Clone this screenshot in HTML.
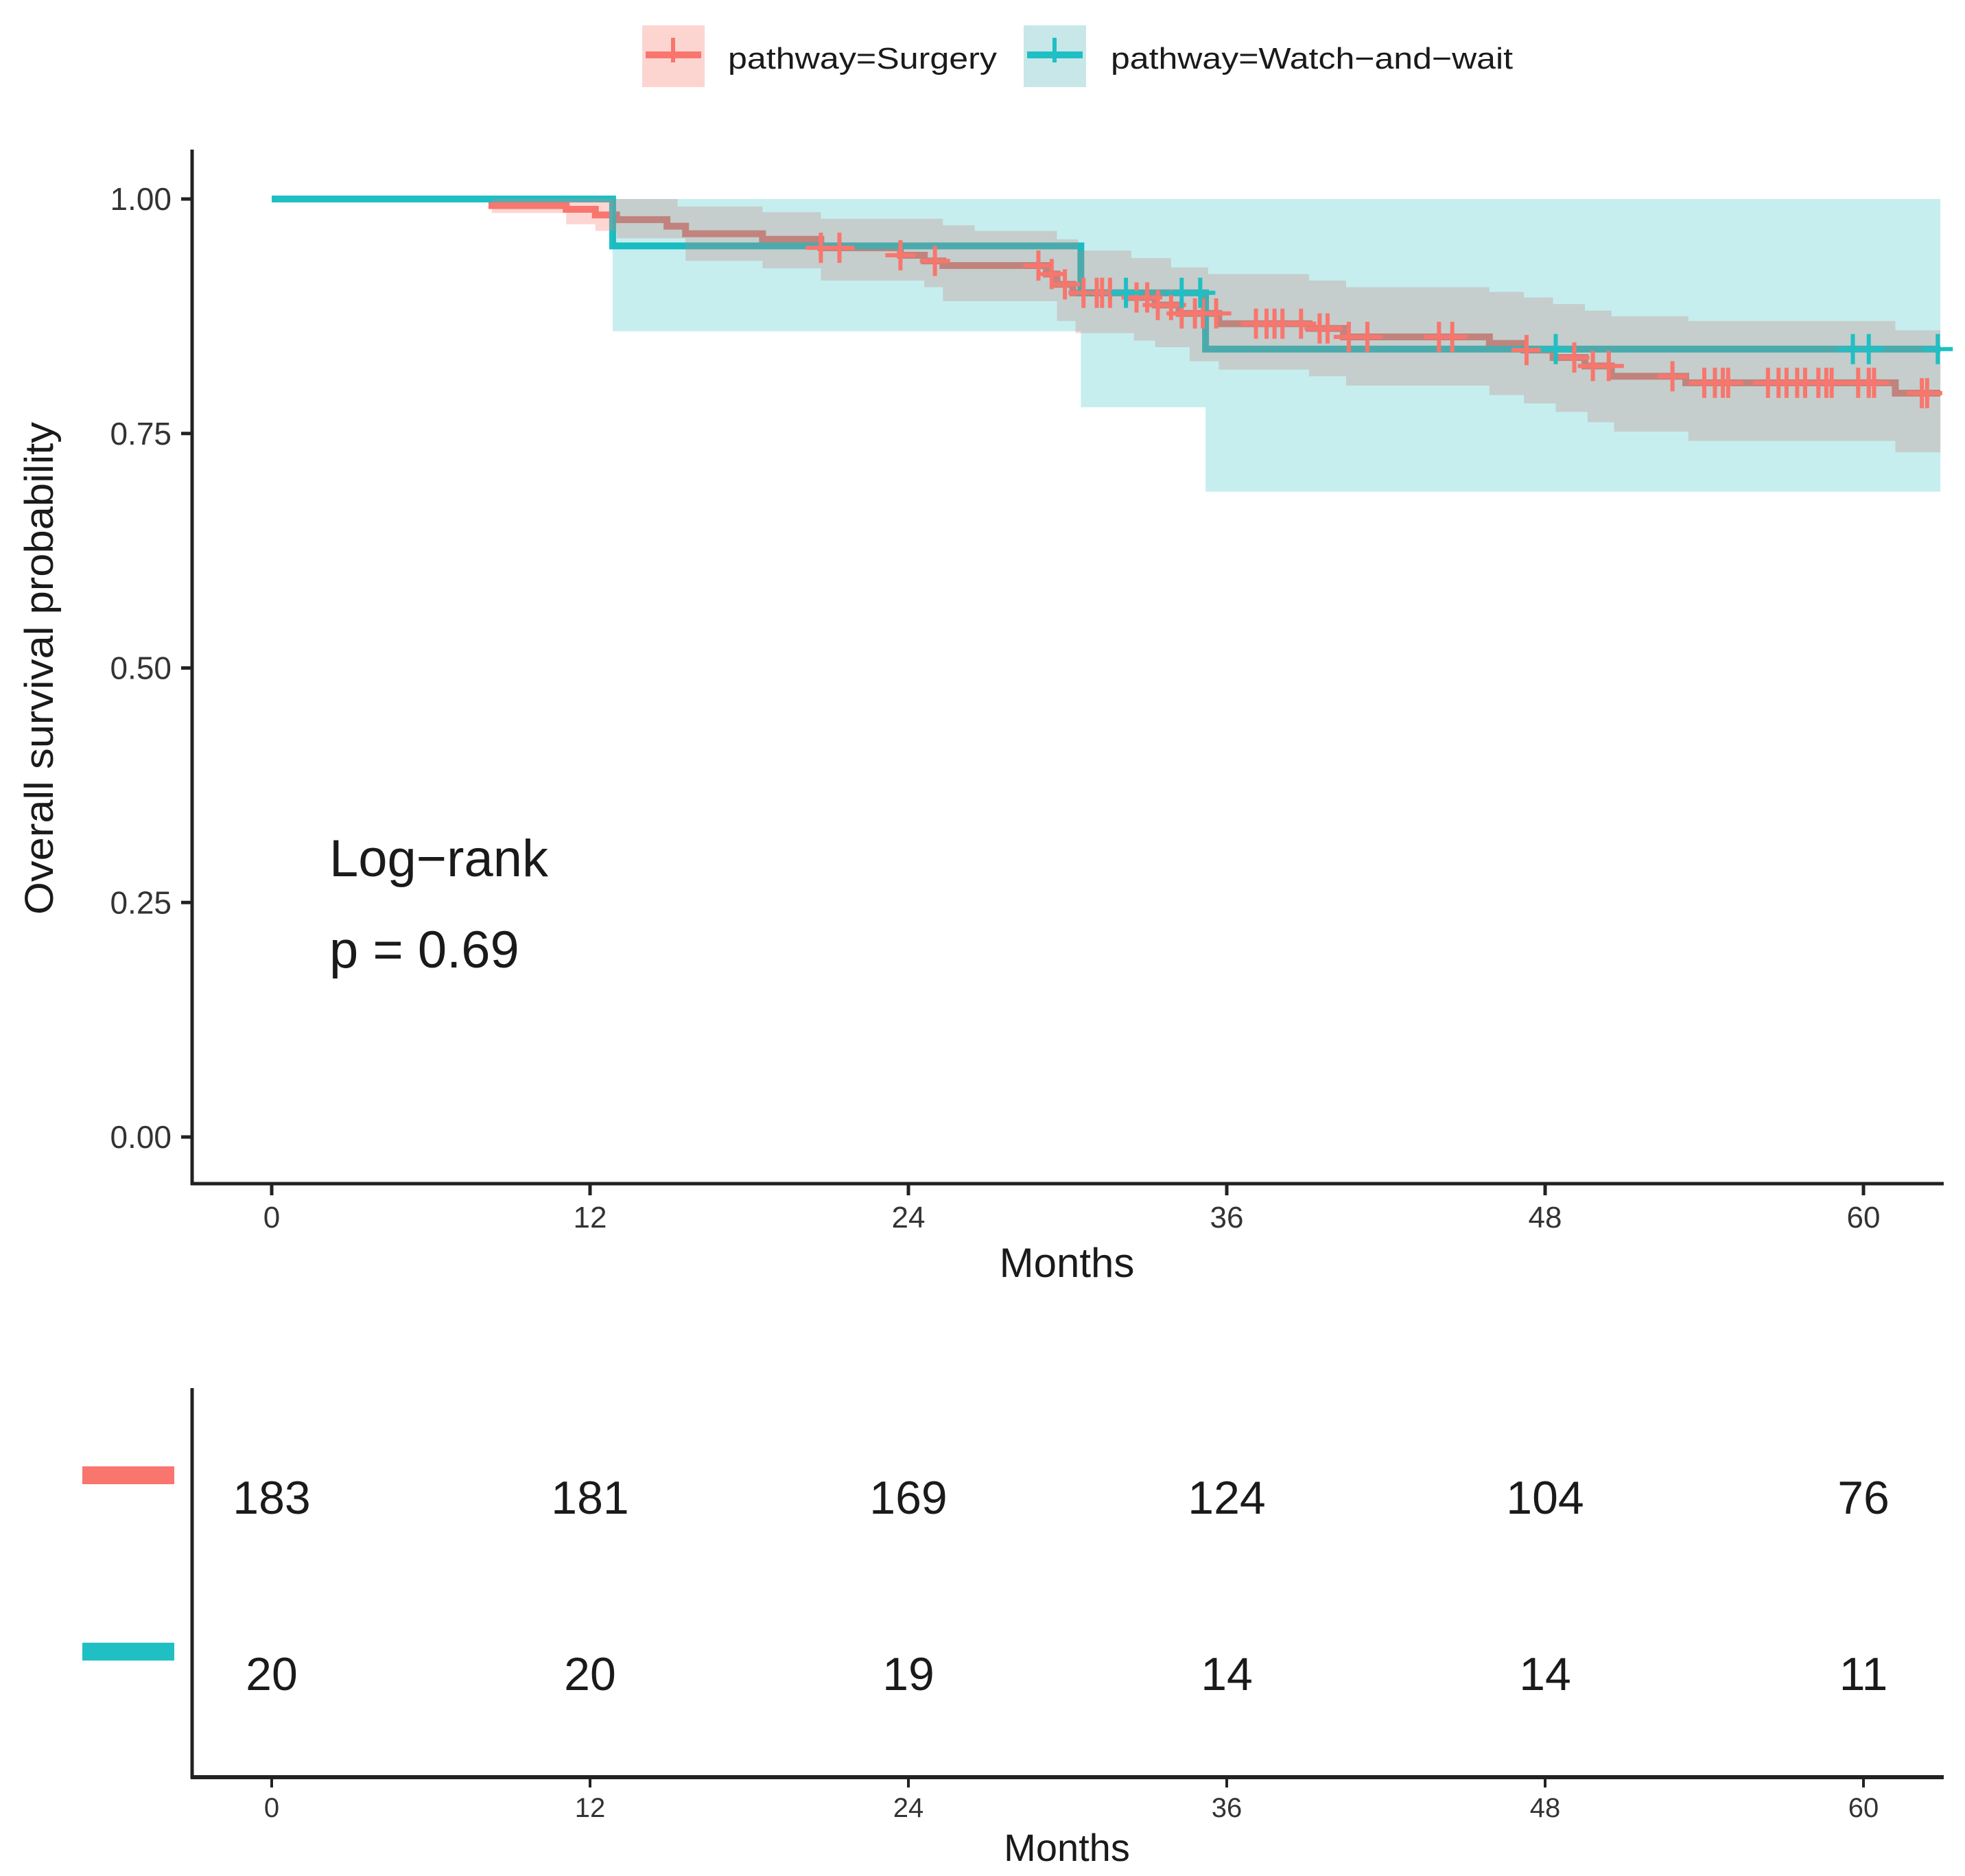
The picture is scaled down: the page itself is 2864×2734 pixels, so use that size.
<!DOCTYPE html>
<html><head><meta charset="utf-8"><style>
html,body{margin:0;padding:0;background:#fff;}
svg{display:block;font-family:"Liberation Sans",Arial,sans-serif;}
</style></head><body>
<svg id="chart" width="2864" height="2734" viewBox="0 0 2864 2734" xmlns="http://www.w3.org/2000/svg">
<rect width="2864" height="2734" fill="#fff"/>
<g id="legend">
  <g>
    <rect x="936" y="37" width="91" height="90" fill="#fcd5d1"/>
    <line x1="941" y1="80" x2="1022" y2="80" stroke="#F8766D" stroke-width="10"/>
    <line x1="981" y1="55" x2="981" y2="91" stroke="#F8766D" stroke-width="6"/>
    <text x="1061" y="100" font-size="44" fill="#1a1a1a" textLength="392" lengthAdjust="spacingAndGlyphs">pathway=Surgery</text>
  </g>
  <g>
    <rect x="1492" y="37" width="91" height="90" fill="#c8e7e9"/>
    <line x1="1497" y1="80" x2="1578" y2="80" stroke="#1FBFC4" stroke-width="10"/>
    <line x1="1537" y1="55" x2="1537" y2="91" stroke="#1FBFC4" stroke-width="6"/>
    <text x="1619" y="100" font-size="44" fill="#1a1a1a" textLength="586" lengthAdjust="spacingAndGlyphs">pathway=Watch−and−wait</text>
  </g>
</g>
<g id="plot"></g>
<g id="axes"></g>
<text transform="translate(77,974) rotate(-90)" text-anchor="middle" font-size="58" fill="#1a1a1a" textLength="718" lengthAdjust="spacingAndGlyphs">Overall survival probability</text>
<text x="1555" y="1861" text-anchor="middle" font-size="60" fill="#1a1a1a">Months</text>
<text x="480" y="1277" font-size="76" fill="#1a1a1a">Log−rank</text>
<text x="480" y="1410" font-size="76" fill="#1a1a1a">p = 0.69</text>
<g id="risk"></g>
<text x="1555" y="2712" text-anchor="middle" font-size="56" fill="#1a1a1a">Months</text>
</svg>
<script>
const xTicks = [0, 12, 24, 36, 48, 60];
const yTicks = [0, 0.25, 0.5, 0.75, 1.0];
const yTickLabels = ["0.00", "0.25", "0.50", "0.75", "1.00"];
const surgTimes = [0,8.3,11.1,12.2,13,14.9,15.6,18.5,20.7,23.7,24.6,25.3,29.2,29.6,30.2,32.4,33.3,34.2,35.7,39.1,40.4,45.9,47.2,48.3,49.5,50.5,53.3,61.2];
const surgSurv  = [1,0.993,0.989,0.983,0.978,0.971,0.963,0.957,0.948,0.940,0.934,0.929,0.920,0.909,0.900,0.895,0.887,0.878,0.867,0.862,0.853,0.846,0.839,0.831,0.822,0.811,0.804,0.793];
const surgUpTimes = [0,15.3,18.5,20.7,25.3,26.5,29.6,30.4,32.4,33.9,35.3,39.1,40.5,45.9,47.2,48.3,49.5,50.5,53.4,61.2];
const surgUpper   = [1,0.992,0.986,0.979,0.972,0.966,0.957,0.945,0.937,0.927,0.920,0.913,0.906,0.901,0.895,0.888,0.881,0.875,0.870,0.860];
const surgLoTimes = [0,8.3,11.1,12.2,13,15.6,18.5,20.7,24.6,25.3,29.6,30.3,32.5,33.3,34.6,35.7,39.1,40.5,45.9,47.2,48.4,49.6,50.6,53.4,61.2];
const surgLower   = [1,0.985,0.973,0.966,0.958,0.934,0.926,0.913,0.906,0.891,0.870,0.857,0.849,0.842,0.827,0.818,0.811,0.801,0.791,0.782,0.773,0.762,0.752,0.742,0.730];
const surgCensor = [20.7,21.4,23.7,25.0,28.9,29.4,29.9,30.6,31.1,31.3,31.6,32.6,33.0,33.4,33.9,34.3,34.8,35.1,35.6,37.1,37.5,37.8,38.1,38.8,39.5,39.8,40.6,41.3,44.0,44.5,47.3,49.1,49.8,50.4,52.8,54.0,54.4,54.7,54.9,56.4,56.8,57.1,57.5,57.8,58.3,58.6,58.8,59.8,60.2,60.4,62.2,62.4];
const watchTimes = [0,12.85,30.5,35.2];
const watchSurv  = [1,0.95,0.90,0.84];
const watchUpper = [1,1,1,1];
const watchLower = [1,0.859,0.778,0.688];
const watchCensor = [32.2,34.3,35.0,48.4,59.6,60.2,62.8];
const riskSurgery = [183,181,169,124,104,76];
const riskWatch = [20,20,19,14,14,11];
const tEnd = 62.9;

const NS = "http://www.w3.org/2000/svg";
const X = t => 396 + t * 38.667;
const Y = p => 1657 - p * 1367;
function mk(tag, attrs, parent){ const e=document.createElementNS(NS,tag); for(const k in attrs) e.setAttribute(k,attrs[k]); parent.appendChild(e); return e; }
function stepPath(ts, vs){ let d=`M${X(ts[0])},${Y(vs[0])}`; for(let i=1;i<ts.length;i++){ d+=`H${X(ts[i])}V${Y(vs[i])}`; } d+=`H${X(tEnd)}`; return d; }
function bandPath(tu, vu, tl, vl){
  let d=`M${X(tu[0])},${Y(vu[0])}`; for(let i=1;i<tu.length;i++){ d+=`H${X(tu[i])}V${Y(vu[i])}`; } d+=`H${X(tEnd)}`;
  d+=`V${Y(vl[vl.length-1])}`; for(let i=tl.length-1;i>0;i--){ d+=`H${X(tl[i])}V${Y(vl[i-1])}`; } d+=`H${X(tl[0])}Z`; return d;
}
function valAt(ts, vs, t){ let v=vs[0]; for(let i=0;i<ts.length;i++){ if(ts[i]<=t) v=vs[i]; } return v; }
const plot = document.getElementById('plot');
// lines
const ls = mk('path',{d:stepPath(surgTimes,surgSurv),fill:'none',stroke:'#F8766D','stroke-width':10},plot);


const lw = mk('path',{d:stepPath(watchTimes,watchSurv),fill:'none',stroke:'#1FBFC4','stroke-width':10},plot);


// ribbons
const bs = mk('path',{d:bandPath(surgUpTimes,surgUpper,surgLoTimes,surgLower),fill:'rgba(248,118,109,0.3)'},plot);


const bw = mk('path',{d:bandPath(watchTimes.slice(1),watchUpper.slice(1),watchTimes.slice(1),watchLower.slice(1)),fill:'rgba(0,178,184,0.22)'},plot);


// censors
function censor(t, v, color, name){
  const g = mk('g',{stroke:color,'stroke-width':6},plot);
  
  
  const cx=X(t), cy=Y(v);
  mk('line',{x1:cx-22,y1:cy,x2:cx+22,y2:cy},g);
  mk('line',{x1:cx,y1:cy-22,x2:cx,y2:cy+22},g);
}
surgCensor.forEach(t=>censor(t,valAt(surgTimes,surgSurv,t),'#F8766D','surgery-censor-mark'));
watchCensor.forEach(t=>censor(t,valAt(watchTimes,watchSurv,t),'#1FBFC4','watch-censor-mark'));
// axes
const ax = document.getElementById('axes');
const yl = mk('line',{x1:280,y1:218,x2:280,y2:1727,stroke:'#222','stroke-width':5},ax);


const xl = mk('line',{x1:278,y1:1725,x2:2833,y2:1725,stroke:'#222','stroke-width':5},ax);


yTicks.forEach((v,i)=>{
  const tk=mk('line',{x1:264,y1:Y(v),x2:280,y2:Y(v),stroke:'#222','stroke-width':5},ax);
  
  
  const tx=mk('text',{x:250,y:Y(v)+16,'text-anchor':'end','font-size':46,fill:'#333'},ax);
  
  
  tx.textContent=yTickLabels[i];
});
xTicks.forEach(t=>{
  const tk=mk('line',{x1:X(t),y1:1725,x2:X(t),y2:1742,stroke:'#222','stroke-width':5},ax);
  
  
  const tx=mk('text',{x:X(t),y:1789,'text-anchor':'middle','font-size':44,fill:'#333'},ax);
  
  
  tx.textContent=String(t);
});
// risk table
const rk = document.getElementById('risk');
const ry = mk('line',{x1:280,y1:2023,x2:280,y2:2592,stroke:'#222','stroke-width':5},rk);


const rx = mk('line',{x1:278,y1:2590,x2:2833,y2:2590,stroke:'#222','stroke-width':6},rk);


const k1 = mk('rect',{x:120,y:2137,width:134,height:26,fill:'#F8766D'},rk);


const k2 = mk('rect',{x:120,y:2394,width:134,height:26,fill:'#1FBFC4'},rk);


xTicks.forEach((t,i)=>{
  const a=mk('text',{x:X(t),y:2206,'text-anchor':'middle','font-size':68,fill:'#1a1a1a'},rk);
  
  
  a.textContent=String(riskSurgery[i]);
  const b=mk('text',{x:X(t),y:2463,'text-anchor':'middle','font-size':68,fill:'#1a1a1a'},rk);
  
  
  b.textContent=String(riskWatch[i]);
  const tk=mk('line',{x1:X(t),y1:2590,x2:X(t),y2:2605,stroke:'#222','stroke-width':4},rk);
  
  
  const tl=mk('text',{x:X(t),y:2648,'text-anchor':'middle','font-size':40,fill:'#333'},rk);
  
  
  tl.textContent=String(t);
});
</script>
</body></html>
